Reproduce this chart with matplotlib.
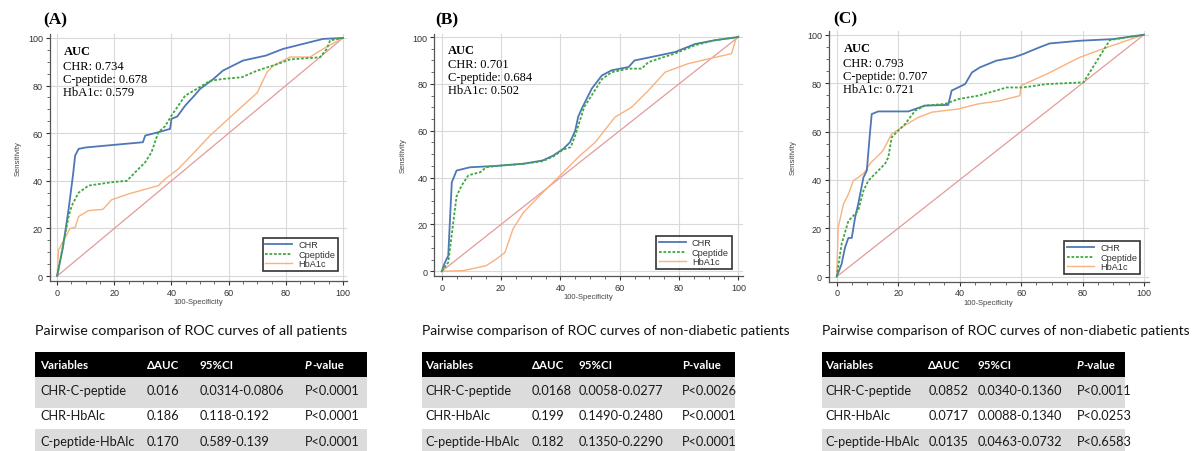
import matplotlib
matplotlib.use("Agg")
import matplotlib.pyplot as plt
from matplotlib.patches import Rectangle

# ---------------- data ----------------
A_chr_x = [0, 2, 4, 5.5, 6.3, 7.5, 10, 19, 30, 30.8, 35.4, 39.5, 40, 42, 44.8, 48, 50, 54.7, 58, 65, 73, 79, 86, 93, 100]
A_chr_y = [0, 12, 28, 42, 50.6, 53.4, 54, 55, 56.2, 59, 60.4, 61.8, 66, 67, 71.6, 75.8, 78.6, 82.8, 86.3, 90.5, 92.6, 95.4, 97.5, 99.6, 100]
A_cp_x = [0, 4, 5.1, 7.5, 11, 19, 24.4, 27.3, 30.8, 33, 35.4, 37.8, 40, 42.4, 44.8, 48, 53.5, 58, 64.6, 70, 77, 81.5, 92, 94.3, 95.5, 100]
A_cp_y = [0, 25, 29.5, 35, 38, 39.4, 40, 43.6, 47.8, 52, 60.4, 63, 67.4, 71.6, 75.8, 78, 82, 82.8, 83.5, 86.3, 89, 91, 91.9, 95.4, 99, 100]
A_hb_x = [0, 0.5, 4.5, 6.3, 7.5, 11, 16, 19, 25, 35.4, 37.8, 42.4, 48, 53.5, 60.5, 70, 73.4, 75.6, 81.5, 88.5, 93, 100]
A_hb_y = [0, 11, 20, 20.4, 25, 27.5, 28, 32, 34.5, 38, 40.8, 45, 52, 59, 66.7, 77, 85.6, 88.4, 92, 92, 95.4, 100]

B_chr_x = [0, 1.1, 2.2, 3.4, 5, 9.5, 18.5, 27.5, 34, 37.6, 41, 43.2, 45, 46, 47.2, 50.6, 54, 57.3, 63, 65, 70.8, 78.7, 85.4, 92, 100]
B_chr_y = [0, 3.8, 6.7, 38, 43, 44.4, 45, 45.9, 47.3, 49.4, 52.3, 55, 60, 66, 69.4, 78, 83.6, 85.8, 87.2, 90, 91.5, 93.6, 97, 98.6, 100]
B_cp_x = [0, 2.2, 5, 6.7, 9, 13, 15, 18.5, 27.5, 34, 37.6, 41, 43.5, 45, 46.5, 48, 51, 54, 57.3, 63, 67.4, 69.7, 78.7, 85.4, 92, 100]
B_cp_y = [0, 3.8, 32, 36.6, 41, 42.3, 44.4, 45, 45.9, 47, 49, 52, 53, 58, 64, 70, 76, 82, 85, 86.5, 86.5, 89.3, 93, 96.5, 98.6, 100]
B_hb_x = [0, 7.3, 15, 18.5, 21.3, 24, 27.5, 33, 40, 46.6, 51.7, 58.4, 64, 69.7, 75.3, 83, 90, 97.7, 99.4, 100]
B_hb_y = [0, 0.3, 2.4, 5.3, 8, 18, 25, 32.3, 41, 49.4, 55, 65.8, 70, 77.2, 85, 88.6, 90.7, 92.9, 100, 100]

C_chr_x = [0, 1.6, 2.7, 3.8, 4.9, 6, 7, 8.7, 9.8, 10.8, 11.4, 13.5, 23.3, 28.7, 36.3, 37.4, 41.8, 44, 46.6, 52, 57.5, 60.7, 66, 69.3, 79, 90, 100]
C_chr_y = [0, 5.2, 12, 16, 16, 24.5, 30, 41, 43.8, 59, 67.2, 68.3, 68.3, 70.7, 71, 76.9, 79.6, 84.4, 86.5, 89.3, 90.6, 92, 94.8, 96.4, 97.5, 98.2, 100]
C_cp_x = [0, 1.6, 3.8, 7, 8.7, 10.3, 13.5, 15.7, 16.8, 17.9, 20, 22.2, 25.5, 28.7, 35.2, 39.6, 46, 49.9, 55.3, 60.7, 68.3, 80.3, 88.9, 100]
C_cp_y = [0, 13.5, 23, 27.3, 35.5, 39.7, 43.8, 46.6, 49.3, 57.6, 60.3, 63, 68.6, 70.7, 71.4, 73.4, 74.8, 76.2, 78.2, 78.2, 79.6, 80.3, 97.8, 100]
C_hb_x = [0, 0.5, 2.2, 3.8, 5.4, 7, 9, 11, 13.5, 15, 17.9, 22, 26.5, 31, 39.6, 46, 53.1, 59.6, 60, 68.3, 79, 88, 100]
C_hb_y = [0, 20.4, 30, 34, 39.7, 41, 43, 47, 50, 52, 59, 62.4, 65.8, 68, 69.3, 71.4, 72.7, 74.8, 79, 83.7, 90.6, 94.8, 100]

panel_labels = ["(A)", "(B)", "(C)"]
auc_chr = ["0.734", "0.701", "0.793"]
auc_cp = ["0.678", "0.684", "0.707"]
auc_hb = ["0.579", "0.502", "0.721"]
legend_labels = ["CHR", "Cpeptide", "HbA1c"]

table_titles = ["Pairwise comparison of ROC curves of all patients",
                "Pairwise comparison of ROC curves of non-diabetic patients",
                "Pairwise comparison of ROC curves of non-diabetic patients"]
row_vars = ["CHR-C-peptide", "CHR-HbAlc", "C-peptide-HbAlc"]
A_dauc = ["0.016", "0.186", "0.170"]
A_ci = ["0.0314-0.0806", "0.118-0.192", "0.589-0.139"]
A_p = ["P<0.0001", "P<0.0001", "P<0.0001"]
B_dauc = ["0.0168", "0.199", "0.182"]
B_ci = ["0.0058-0.0277", "0.1490-0.2480", "0.1350-0.2290"]
B_p = ["P<0.0026", "P<0.0001", "P<0.0001"]
C_dauc = ["0.0852", "0.0717", "0.0135"]
C_ci = ["0.0340-0.1360", "0.0088-0.1340", "0.0463-0.0732"]
C_p = ["P<0.0011", "P<0.0253", "P<0.6583"]

# ---------------- layout ----------------
W, H = 1192, 452
fig = plt.figure(figsize=(W / 100, H / 100), dpi=100)
fig.patch.set_facecolor("white")

ov = fig.add_axes([0, 0, 1, 1])
ov.set_xlim(0, W)
ov.set_ylim(H, 0)
ov.axis("off")

COL_CHR = "#4f77b5"
COL_CP = "#3da83d"
COL_HB = "#f7b27f"
COL_DIAG = "#e49a9a"

# axes boxes in pixels: left, right, top, bottom
boxes = [(50, 347.3, 35.4, 281.8), (434.3, 742.8, 34.5, 277.0), (829.0, 1148.6, 32.1, 282.5)]
curves = [(A_chr_x, A_chr_y, A_cp_x, A_cp_y, A_hb_x, A_hb_y),
          (B_chr_x, B_chr_y, B_cp_x, B_cp_y, B_hb_x, B_hb_y),
          (C_chr_x, C_chr_y, C_cp_x, C_cp_y, C_hb_x, C_hb_y)]
leg_anchor = [(0.969, 0.04), (0.964, 0.029), (0.973, 0.03)]
ylabel_x = [18, 403, 793]
label_x = [43, 435, 833]
label_y = [20, 20, 19]

for i, (l, r, t, b) in enumerate(boxes):
    ax = fig.add_axes([l / W, 1 - b / H, (r - l) / W, (b - t) / H])
    ax.set_facecolor("none")
    ax.set_xlim(-2.5, 101.5)
    ax.set_ylim(-2, 101.5)
    ax.set_xticks([0, 20, 40, 60, 80, 100])
    ax.set_yticks([0, 20, 40, 60, 80, 100])
    ax.set_xticks(range(0, 101, 5), minor=True)
    ax.set_yticks(range(0, 101, 5), minor=True)
    ax.grid(True, which="major", color="#d9d9d9", lw=0.8)
    for s in ["top", "right"]:
        ax.spines[s].set_visible(False)
    for s in ["left", "bottom"]:
        ax.spines[s].set_color("#555555")
        ax.spines[s].set_linewidth(0.9)
    ax.tick_params(which="major", length=3, width=0.8, labelsize=6.5, colors="#333333", pad=2)
    ax.tick_params(which="minor", length=2, width=0.6, colors="#555555")
    for lab in ax.get_xticklabels() + ax.get_yticklabels():
        lab.set_family("Liberation Sans")
    cx, cy, px, py, hx, hy = curves[i]
    ax.plot([0, 100], [0, 100], color=COL_DIAG, lw=0.9, zorder=2)
    ax.plot(hx, hy, color=COL_HB, lw=1.0, zorder=3)
    ax.plot(cx, cy, color=COL_CHR, lw=1.3, zorder=4)
    ax.plot(px, py, color=COL_CP, lw=1.3, ls=(0, (1.5, 1)), zorder=5)
    h1, = ax.plot([], [], color=COL_CHR, lw=1.3)
    h2, = ax.plot([], [], color=COL_CP, lw=1.3, ls=(0, (1.5, 1)))
    h3, = ax.plot([], [], color=COL_HB, lw=1.0)
    leg = ax.legend([h1, h2, h3], legend_labels, loc="lower right", bbox_to_anchor=leg_anchor[i],
                    frameon=True, fancybox=False, borderpad=0.3, labelspacing=0.05,
                    handlelength=2.9, handletextpad=0.7, borderaxespad=0,
                    prop={"family": "Liberation Sans", "size": 6.6})
    leg.get_frame().set_edgecolor("black")
    leg.get_frame().set_linewidth(1.2)
    for txt in leg.get_texts():
        txt.set_color("#333333")
    ax.text(0.045, 0.955, "AUC", transform=ax.transAxes, family="Liberation Serif",
            fontweight="bold", fontsize=9, va="top", ha="left")
    lines = ["CHR: " + auc_chr[i], "C-peptide: " + auc_cp[i], "HbA1c: " + auc_hb[i]]
    ax.text(0.045, 0.898, "\n".join(lines), transform=ax.transAxes, family="Liberation Serif",
            fontsize=9, va="top", ha="left", linespacing=1.12)
    ax.set_xlabel("100-Specificity", fontsize=5.5, family="Liberation Sans", color="#444444", labelpad=1)
    ov.text(ylabel_x[i], (t + b) / 2, "Sensitivity", rotation=90, fontsize=5.5,
            family="Liberation Sans", color="#444444", ha="center", va="center")
    ov.text(label_x[i], label_y[i], panel_labels[i], family="Liberation Serif", fontweight="bold",
            fontsize=12.5, ha="left", va="center")

# ---------------- tables ----------------
tab_lr = [(35, 366.7), (421.7, 735), (821.7, 1125)]
col_x = [(40, 146.7, 200, 305), (425, 531.7, 578.3, 681.7), (825, 928.3, 978, 1076.7)]
tdata = [(A_dauc, A_ci, A_p), (B_dauc, B_ci, B_p), (C_dauc, C_ci, C_p)]
italic_p = [True, False, True]
row_top = [352.7, 378.3, 404.0, 430.0]
row_h = [25.6, 25.7, 26.0, 26.0]
title_size = [10.3, 10.0, 10.0]
tfont = "Lato"

for i in range(3):
    l, r = tab_lr[i]
    ov.text(l, 330.7, table_titles[i], fontsize=title_size[i], family=tfont, ha="left", va="center", color="#111111")
    ov.add_patch(Rectangle((l, row_top[0]), r - l, row_h[0], color="black", lw=0))
    for k in (1, 3):
        ov.add_patch(Rectangle((l, row_top[k]), r - l, row_h[k] + 5, color="#dcdcdc", lw=0))
    xs = col_x[i]
    hy = row_top[0] + row_h[0] / 2
    ov.text(xs[0], hy, "Variables", color="white", fontsize=8.3, family=tfont, fontweight="bold", va="center")
    ov.text(xs[1], hy, "ΔAUC", color="white", fontsize=8.3, family=tfont, fontweight="bold", va="center")
    ov.text(xs[2], hy, "95%CI", color="white", fontsize=8.3, family=tfont, fontweight="bold", va="center")
    if italic_p[i]:
        ov.text(xs[3], hy, "P", color="white", fontsize=8.3, family=tfont, fontweight="bold",
                style="italic", va="center")
        ov.text(xs[3] + 7, hy, "-value", color="white", fontsize=8.3, family=tfont, fontweight="bold", va="center")
    else:
        ov.text(xs[3], hy, "P-value", color="white", fontsize=8.3, family=tfont, fontweight="bold", va="center")
    d, c, p = tdata[i]
    for k in range(3):
        y = row_top[k + 1] + 12.5
        for j, s in enumerate([row_vars[k], d[k], c[k], p[k]]):
            ov.text(xs[j], y, s, fontsize=9.2, family=tfont, va="center", color="#1a1a1a")

fig.savefig("out.png", dpi=100, facecolor="white")
